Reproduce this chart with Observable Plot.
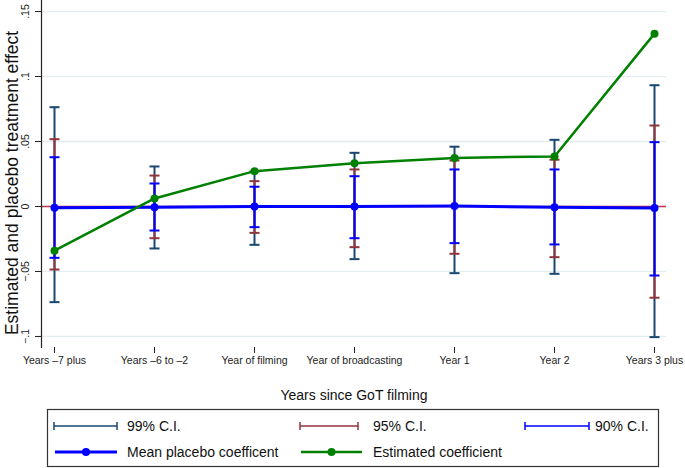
<!DOCTYPE html>
<html>
<head>
<meta charset="utf-8">
<script src="https://cdn.jsdelivr.net/npm/d3@7"></script>
<script src="https://cdn.jsdelivr.net/npm/@observablehq/plot@0.6"></script>
<style>
  html, body { margin: 0; padding: 0; background: #fff; }
  #wrap { width: 685px; font-family: "Liberation Sans", Arial, sans-serif; }
  svg { display: block; }
</style>
</head>
<body>
<div id="wrap"></div>
<script>
// ---- data ----
const categories = ["Years –7 plus", "Years –6 to –2", "Year of filming", "Year of broadcasting", "Year 1", "Year 2", "Years 3 plus"];
const estimated = [-0.034, 0.0062, 0.0272, 0.0333, 0.0374, 0.0385, 0.133];
const placebo   = [-0.001, -0.0005, 0.0, 0.0, 0.0003, -0.0005, -0.0012];
const ci99Lo = [-0.0736, -0.0323, -0.0295, -0.0405, -0.0513, -0.0518, -0.1005];
const ci99Hi = [0.0764, 0.0308, 0.027, 0.0413, 0.046, 0.0513, 0.0933];
const ci95Lo = [-0.0485, -0.0244, -0.0203, -0.0313, -0.0364, -0.039, -0.0702];
const ci95Hi = [0.0518, 0.0238, 0.0195, 0.0285, 0.0354, 0.036, 0.0623];
const ci90Lo = [-0.0395, -0.0185, -0.0159, -0.0244, -0.0282, -0.0292, -0.0531];
const ci90Hi = [0.0379, 0.0177, 0.0152, 0.0233, 0.0285, 0.0285, 0.0495];
const yTicks = [-0.1, -0.05, 0, 0.05, 0.1, 0.15];
const yTickLabels = ["−.1", "−.05", "0", ".05", ".1", ".15"];
const yDomain = [-0.1085, 0.1585];
const yTitle = "Estimated and placebo treatment effect";
const xTitle = "Years since GoT filming";
const legendLabels = ["99% C.I.", "95% C.I.", "90% C.I.", "Mean placebo coefficent", "Estimated coefficient"];

// ---- colours ----
const C99 = "#1a476f", C95 = "#90353b", C90 = "#0000ff", CPL = "#0000ff", CEST = "#008000", CZERO = "#c4374a";

const rows = categories.map((c, i) => ({
  cat: c, est: estimated[i], pl: placebo[i],
  lo99: ci99Lo[i], hi99: ci99Hi[i], lo95: ci95Lo[i], hi95: ci95Hi[i], lo90: ci90Lo[i], hi90: ci90Hi[i]
}));
const tickRows = yTicks.map((v, i) => ({v, label: yTickLabels[i]}));

// horizontal cap symbol for the error bars
const cap = {draw(ctx) { ctx.moveTo(-5, 0); ctx.lineTo(5, 0); }};

function ciMarks(lo, hi, color) {
  return [
    Plot.ruleX(rows, {x: "cat", y1: lo, y2: hi, stroke: color, strokeWidth: 2}),
    Plot.dot(rows, {x: "cat", y: lo, symbol: cap, r: 5, stroke: color, fill: "none", strokeWidth: 2}),
    Plot.dot(rows, {x: "cat", y: hi, symbol: cap, r: 5, stroke: color, fill: "none", strokeWidth: 2})
  ];
}

const chart = Plot.plot({
  width: 685,
  height: 403,
  marginLeft: 41,
  marginRight: 19,
  marginTop: 0,
  marginBottom: 56,
  style: {fontFamily: "'Liberation Sans', Arial, sans-serif", color: "#222", background: "#fff"},
  x: {type: "point", domain: categories, padding: 0.11, label: null},
  y: {domain: yDomain, label: null},
  marks: [
    Plot.gridY(yTicks, {stroke: "#e4edf0", strokeOpacity: 1, strokeWidth: 1.3}),
    Plot.ruleY([0], {stroke: CZERO, strokeWidth: 1.5}),
    ...ciMarks("lo99", "hi99", C99),
    ...ciMarks("lo95", "hi95", C95),
    ...ciMarks("lo90", "hi90", C90),
    Plot.line(rows, {x: "cat", y: "pl", stroke: CPL, strokeWidth: 3}),
    Plot.dot(rows, {x: "cat", y: "pl", r: 4, fill: CPL}),
    Plot.line(rows, {x: "cat", y: "est", stroke: CEST, strokeWidth: 2.5}),
    Plot.dot(rows, {x: "cat", y: "est", r: 4, fill: CEST}),
    // axes
    Plot.frame({anchor: "left", stroke: "#222", strokeWidth: 1.2}),
    Plot.ruleY([yDomain[0]], {x1: categories[0], x2: categories[categories.length - 1], stroke: "#222", strokeWidth: 1.2}),
    Plot.axisX({tickSize: 6, tickPadding: 3, fontSize: 10.5, label: null, stroke: "#222", fill: "#222"}),
    Plot.axisY(yTicks, {tickSize: 6, tickFormat: () => "", label: null, stroke: "#222"}),
    Plot.text(tickRows, {y: "v", text: "label", frameAnchor: "left", dx: -16, rotate: -90, fontSize: 10.5, fill: "#222", textAnchor: "middle", lineAnchor: "middle"}),
    Plot.text([yTitle], {text: d => d, frameAnchor: "left", dx: -29, dy: 9, rotate: -90, fontSize: 17.5, fill: "#111", textAnchor: "middle", lineAnchor: "middle"}),
    Plot.text([xTitle], {text: d => d, frameAnchor: "bottom", dy: 48, fontSize: 14, fill: "#111", lineAnchor: "middle"})
  ]
});
document.getElementById("wrap").appendChild(chart);

// ---- legend (below the chart) ----
const lg = d3.select("#wrap").append("svg").attr("width", 685).attr("height", 65)
  .style("font-family", "'Liberation Sans', Arial, sans-serif");
const top0 = 403;
lg.append("rect").attr("x", 47.5).attr("y", 409.5 - top0).attr("width", 611).attr("height", 57)
  .attr("fill", "#fff").attr("stroke", "#333").attr("stroke-width", 1.2);

const legendItems = [
  {label: legendLabels[0], kind: "ci", color: C99, x0: 54, x1: 117, tx: 127, y: 426},
  {label: legendLabels[1], kind: "ci", color: C95, x0: 300, x1: 358, tx: 373, y: 426},
  {label: legendLabels[2], kind: "ci", color: C90, x0: 525, x1: 589, tx: 595, y: 426},
  {label: legendLabels[3], kind: "line", color: CPL, x0: 55, x1: 117, tx: 127, y: 452, w: 3},
  {label: legendLabels[4], kind: "line", color: CEST, x0: 301, x1: 362, tx: 373, y: 452, w: 2.5}
];
for (const it of legendItems) {
  const y = it.y - top0;
  const g = lg.append("g");
  if (it.kind === "ci") {
    g.append("line").attr("x1", it.x0).attr("x2", it.x1).attr("y1", y).attr("y2", y).attr("stroke", it.color).attr("stroke-width", 1.5);
    for (const xx of [it.x0, it.x1]) {
      g.append("line").attr("x1", xx).attr("x2", xx).attr("y1", y - 4).attr("y2", y + 4).attr("stroke", it.color).attr("stroke-width", 1.5);
    }
  } else {
    g.append("line").attr("x1", it.x0).attr("x2", it.x1).attr("y1", y).attr("y2", y).attr("stroke", it.color).attr("stroke-width", it.w);
    g.append("circle").attr("cx", (it.x0 + it.x1) / 2).attr("cy", y).attr("r", 4).attr("fill", it.color);
  }
  g.append("text").attr("x", it.tx).attr("y", y).attr("dy", "0.35em").attr("font-size", 14).attr("fill", "#111").text(it.label);
}
</script>
</body>
</html>
